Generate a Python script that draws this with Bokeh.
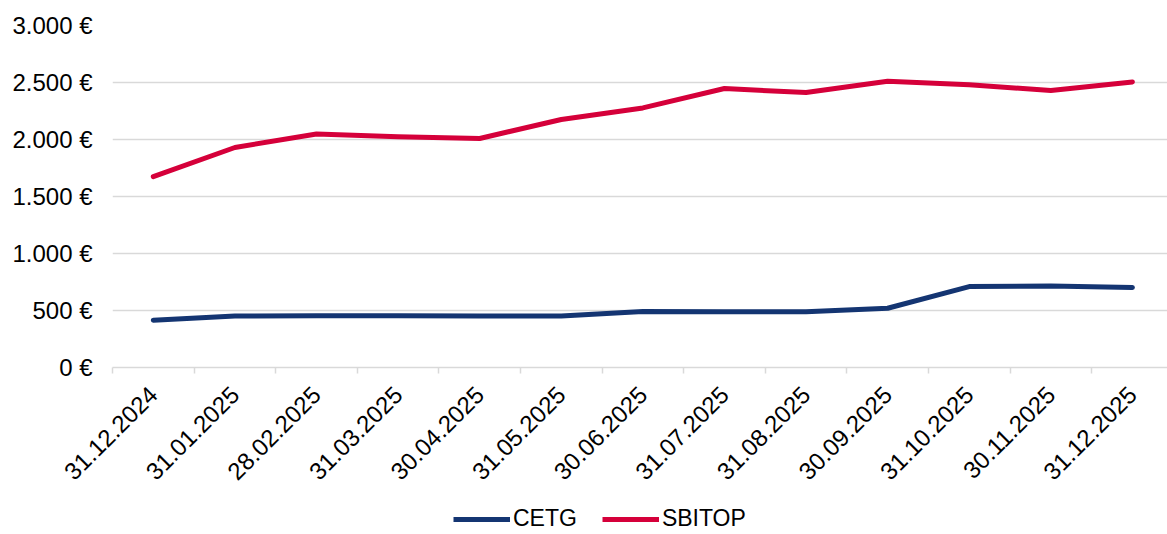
import math
from bokeh.plotting import figure
from bokeh.layouts import column
from bokeh.models import Range1d, FixedTicker, Legend, LegendItem
from bokeh.embed import file_html
from bokeh.resources import INLINE

dates = ["31.12.2024", "31.01.2025", "28.02.2025", "31.03.2025", "30.04.2025",
         "31.05.2025", "30.06.2025", "31.07.2025", "31.08.2025", "30.09.2025",
         "31.10.2025", "30.11.2025", "31.12.2025"]
cetg = [415, 452, 453, 455, 452, 452, 491, 490, 490, 520, 710, 716, 702]
sbitop = [1675, 1930, 2049, 2025, 2009, 2175, 2277, 2447, 2412, 2511, 2480, 2430, 2505]
y_ticks = [0, 500, 1000, 1500, 2000, 2500, 3000]
y_labels = ["0 €", "500 €", "1.000 €", "1.500 €", "2.000 €", "2.500 €", "3.000 €"]

FONT = "Liberation Sans"
FS = "24px"
C_CETG = "#143572"
C_SBI = "#D5003A"
xs = list(range(len(dates)))

p = figure(width=1167, height=500, output_backend="svg", toolbar_location=None,
           x_range=Range1d(-0.5, 12.43), y_range=Range1d(0, 3000),
           min_border_left=112, min_border_right=0, min_border_top=25,
           min_border_bottom=133)
p.outline_line_color = None

# x axis
p.xaxis.ticker = FixedTicker(ticks=xs, minor_ticks=[i - 0.5 for i in range(len(dates) + 1)])
p.xaxis.major_label_overrides = {i: d for i, d in enumerate(dates)}
p.xaxis.major_label_orientation = math.pi / 4
p.xaxis.major_tick_line_color = None
p.xaxis.major_tick_in = 0
p.xaxis.major_tick_out = 0
p.xaxis.minor_tick_line_color = "#d9d9d9"
p.xaxis.minor_tick_line_width = 1.5
p.xaxis.minor_tick_in = 0
p.xaxis.minor_tick_out = 6
p.xaxis.axis_line_color = "#d9d9d9"
p.xaxis.axis_line_width = 1.5
p.xaxis.major_label_text_font = FONT
p.xaxis.major_label_text_font_size = FS
p.xaxis.major_label_text_color = "#000000"
p.xaxis.major_label_standoff = 17

# y axis
p.yaxis.ticker = FixedTicker(ticks=y_ticks)
p.yaxis.major_label_overrides = {t: l for t, l in zip(y_ticks, y_labels)}
p.yaxis.axis_line_color = None
p.yaxis.major_tick_line_color = None
p.yaxis.minor_tick_line_color = None
p.yaxis.major_tick_in = 0
p.yaxis.major_tick_out = 0
p.yaxis.major_label_text_font = FONT
p.yaxis.major_label_text_font_size = FS
p.yaxis.major_label_text_color = "#000000"
p.yaxis.major_label_standoff = 20

p.xgrid.grid_line_color = None
p.ygrid.ticker = FixedTicker(ticks=y_ticks[1:])
p.ygrid.grid_line_color = "#d9d9d9"
p.ygrid.grid_line_width = 1.5

p.line(xs, cetg, line_color=C_CETG, line_width=5, line_cap="round", line_join="round")
p.line(xs, sbitop, line_color=C_SBI, line_width=5, line_cap="round", line_join="round")

# legend strip below the chart
lg = figure(width=1167, height=34, output_backend="svg", toolbar_location=None,
            x_range=Range1d(0, 1), y_range=Range1d(0, 1),
            min_border_left=0, min_border_right=0, min_border_top=0, min_border_bottom=0,
            x_axis_location=None, y_axis_location=None)
lg.outline_line_color = None
lg.xgrid.visible = False
lg.ygrid.visible = False
d1 = lg.line([-10, -9], [-10, -10], line_color=C_CETG, line_width=5)
d2 = lg.line([-10, -9], [-10, -10], line_color=C_SBI, line_width=5)
legend = Legend(items=[LegendItem(label="CETG", renderers=[d1]),
                       LegendItem(label="SBITOP", renderers=[d2])],
                orientation="horizontal", location=(341, 2),
                padding=0, margin=0, spacing=25, label_standoff=3,
                glyph_width=57, glyph_height=22, label_height=22,
                border_line_color=None, background_fill_alpha=0,
                label_text_font=FONT, label_text_font_size="23px",
                label_text_color="#000000")
lg.add_layout(legend, "center")

layout = column(p, lg, spacing=0)
open("out.html", "w").write(file_html(layout, INLINE))
